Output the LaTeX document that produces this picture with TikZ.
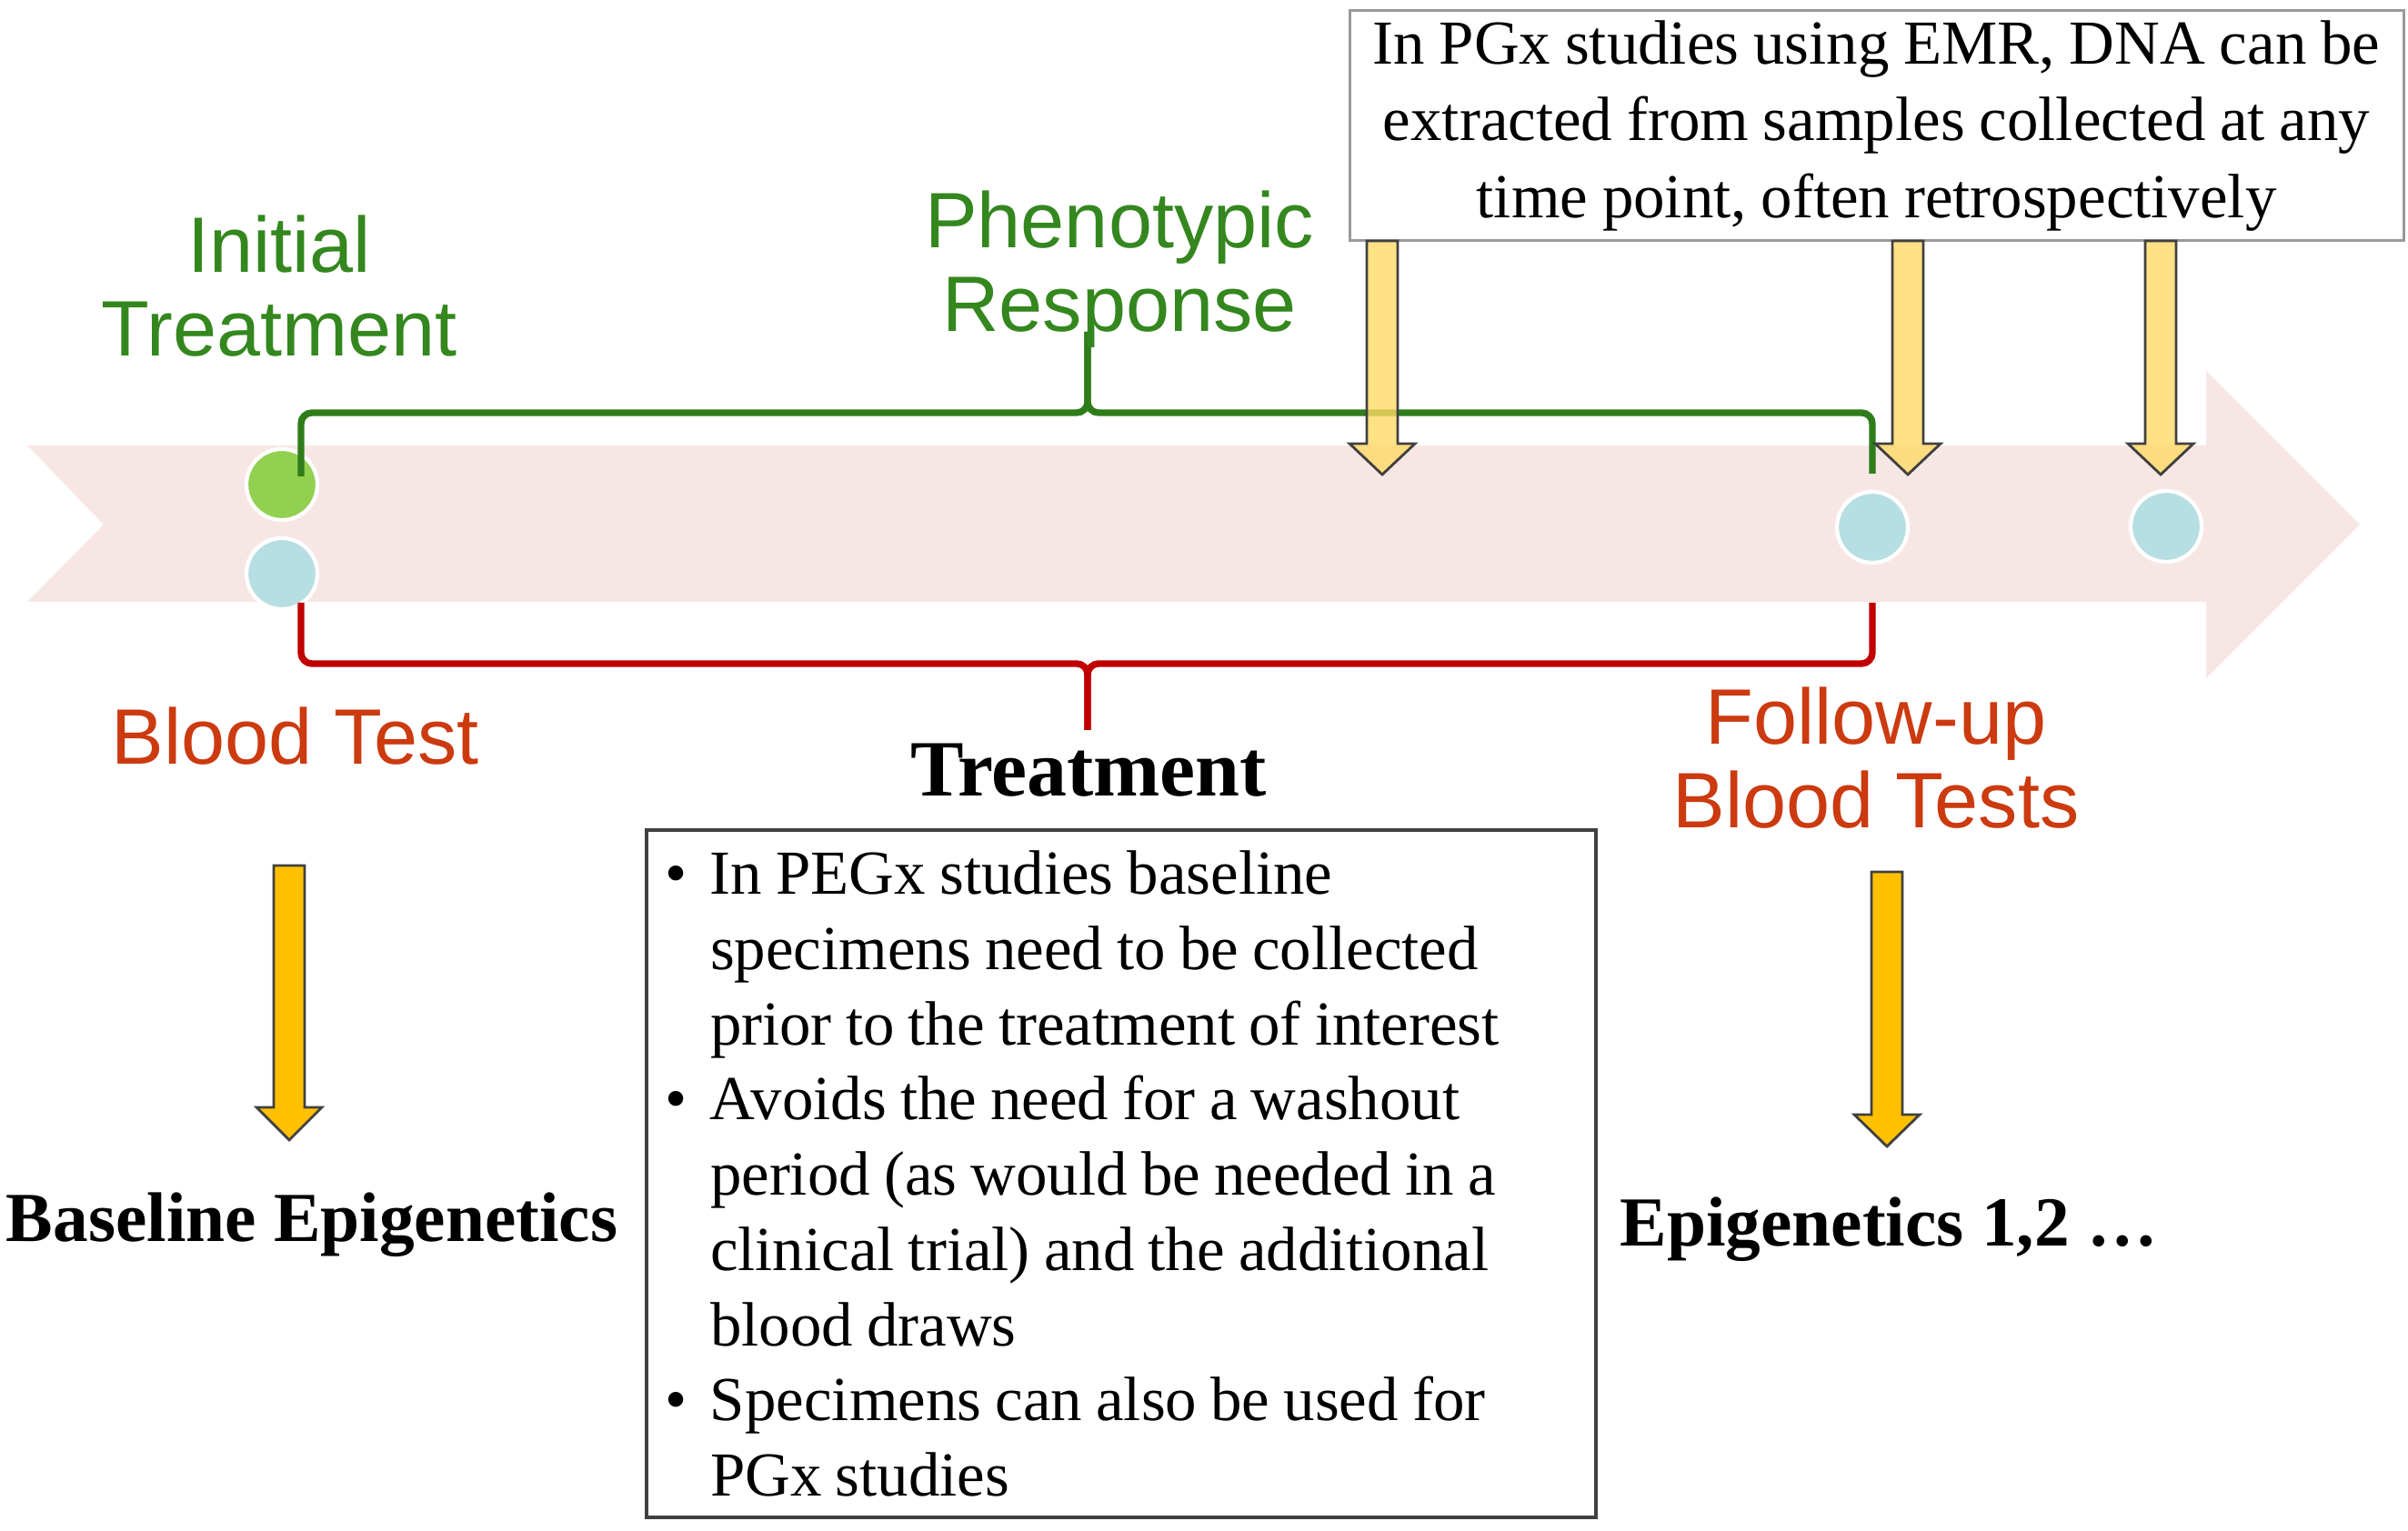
\documentclass[tikz,border=0pt]{standalone}
\usepackage{fontspec}
\setmainfont{Liberation Serif}
\newfontfamily\labelsans{Liberation Sans}
\usetikzlibrary{positioning}

\definecolor{bandpink}{RGB}{246,231,229}
\definecolor{dotgreen}{RGB}{146,208,80}
\definecolor{dotblue}{RGB}{183,222,226}
\definecolor{labelgreen}{RGB}{52,135,30}
\definecolor{bracegreen}{RGB}{46,125,26}
\definecolor{labelred}{RGB}{204,58,16}
\definecolor{bracered}{RGB}{192,0,0}
\definecolor{paleyellow}{RGB}{255,217,102}
\definecolor{gold}{RGB}{255,192,0}

% block arrow pointing down: colour, x, top, start of head, tip
\newcommand{\fatarrow}[5]{%
\draw[blockarrow, fill=#1] ({#2-0.17},#3) -- ({#2+0.17},#3) -- ({#2+0.17},#4)
  -- ({#2+0.36},#4) -- (#2,#5) -- ({#2-0.36},#4) -- ({#2-0.17},#4) -- cycle;}
\newcommand{\bulletmark}{\makebox[0.5cm][l]{\textbullet}}
\newcommand{\indentgap}{\hspace*{0.5cm}}

\tikzset{
  dot/.style={circle, draw=white, line width=1.2pt, minimum size=0.78cm, inner sep=0pt},
  bracketline/.style={line width=2.1pt, rounded corners=0.12cm},
  blockarrow/.style={draw=black!75, line width=0.8pt, line join=miter},
  greenlabel/.style={font={\labelsans\fontsize{24.6}{26.1}\selectfont}, text=labelgreen, align=center, inner sep=0pt},
  redlabel/.style={font={\labelsans\fontsize{24.6}{26.1}\selectfont}, text=labelred, align=center, inner sep=0pt},
  epilabel/.style={font={\bfseries\fontsize{22}{26}\selectfont}, inner sep=0pt},
  pgxbox/.style={draw=black!40, line width=0.85pt, minimum width=11.59cm, minimum height=2.53cm,
    align=center, inner sep=0pt, font={\fontsize{19.6}{24}\selectfont\spaceskip=0.23em}},
  notebox/.style={draw=black!75, line width=0.9pt, text width=10.04cm, inner xsep=0.2cm, inner ysep=0pt,
    minimum height=7.56cm, align=left, font={\fontsize{19.6}{23.55}\selectfont},
    execute at begin node={\spaceskip=0.22em\xspaceskip=0.25em}}
}

\begin{document}
\begin{tikzpicture}
\useasboundingbox (0,0) rectangle (26.48,16.84);

% timeline
\fill[bandpink] (0.30,11.94) -- (24.26,11.94) -- (24.26,12.76) -- (25.95,11.07) -- (24.26,9.38)
  -- (24.26,10.22) -- (0.30,10.22) -- (1.14,11.07) -- cycle;

\node[dot, fill=dotgreen] (start) at (3.10,11.51) {};
\node[dot, fill=dotblue] (base) at (3.10,10.53) {};
\node[dot, fill=dotblue] (follow1) at (20.59,11.04) {};
\node[dot, fill=dotblue] (follow2) at (23.82,11.05) {};

\draw[bracegreen, bracketline] (3.31,11.60) -- (3.31,12.30) -- (11.96,12.30) -- (11.96,13.19);
\draw[bracegreen, bracketline] (20.59,11.63) -- (20.59,12.30) -- (11.96,12.30) -- (11.96,13.19);
\draw[bracered, bracketline] (3.31,10.21) -- (3.31,9.54) -- (11.96,9.54) -- (11.96,8.81);
\draw[bracered, bracketline] (20.59,10.21) -- (20.59,9.54) -- (11.96,9.54) -- (11.96,8.81);

\node[pgxbox] (pgx) at (20.635,15.455) {In PGx studies using EMR, DNA can be\\
  extracted from samples collected at any\\time point, often retrospectively\rule[-0.1cm]{0pt}{0pt}};

\begin{scope}[fill opacity=0.8]
\fatarrow{paleyellow}{15.20}{14.19}{11.96}{11.62}
\fatarrow{paleyellow}{20.98}{14.19}{11.96}{11.62}
\fatarrow{paleyellow}{23.76}{14.19}{11.96}{11.62}
\end{scope}
\fatarrow{gold}{3.18}{7.32}{4.66}{4.30}
\fatarrow{gold}{20.75}{7.25}{4.58}{4.23}

\node[greenlabel, anchor=north] (initial) at (3.07,14.48) {Initial\\Treatment};
\node[greenlabel, anchor=north] (pheno) at (12.31,14.75) {Phenotypic\\Response};
\node[redlabel, anchor=north west] (blood) at (1.22,9.07) {Blood Test};
\node[redlabel, anchor=north] (followup) at (20.63,9.29) {Follow-up\\Blood Tests};
\node[font={\bfseries\fontsize{25}{30}\selectfont}, inner sep=0pt, anchor=north] (treat) at (11.97,8.67) {Treatment};

\node[notebox] (pegx) at (12.33,3.93) {\bulletmark In PEGx studies baseline\\
  \indentgap specimens need to be collected\\
  \indentgap prior to the treatment of interest\\
  \bulletmark Avoids the need for a washout\\
  \indentgap period (as would be needed in a\\
  \indentgap clinical trial) and the additional\\
  \indentgap blood draws\\
  \bulletmark Specimens can also be used for\\
  \indentgap PGx studies};

\node[epilabel, anchor=base] (baseepi) at (3.43,3.18) {Baseline Epigenetics};
\node[epilabel, anchor=base] (epi) at (20.77,3.13) {Epigenetics 1,2 …};
\end{tikzpicture}
\end{document}
